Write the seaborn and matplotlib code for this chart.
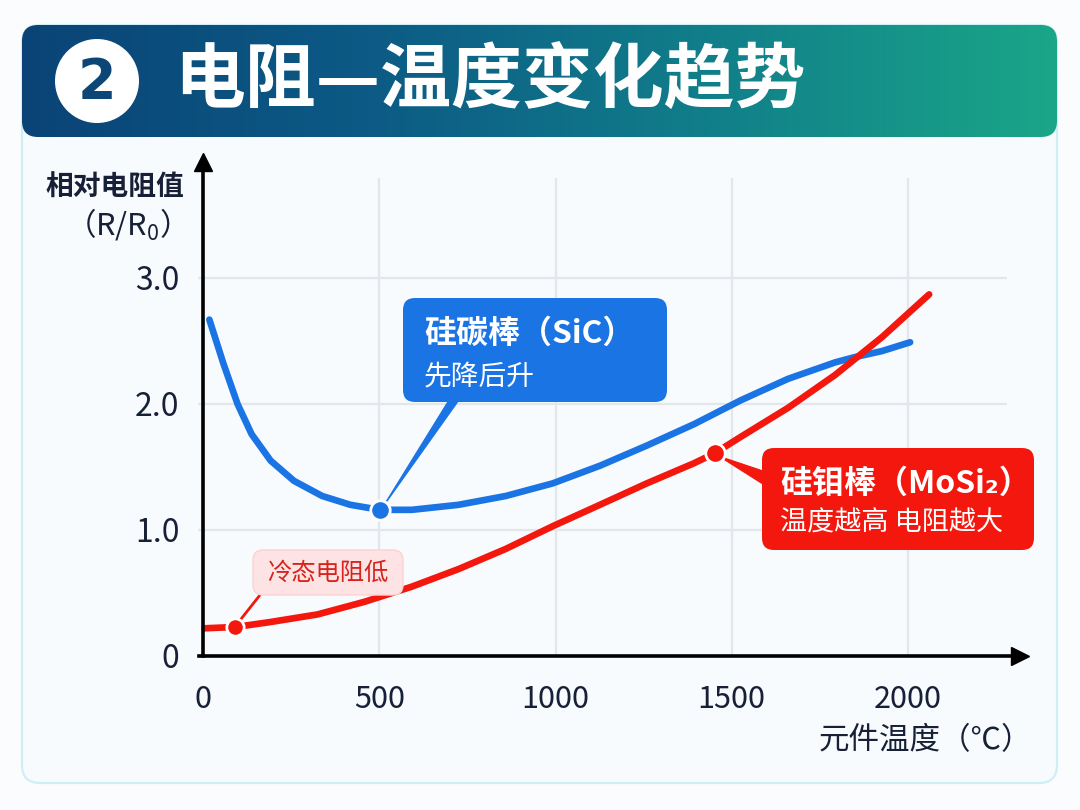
import numpy as np
import pandas as pd
import matplotlib
matplotlib.use('Agg')
import matplotlib.pyplot as plt
import seaborn as sns
from matplotlib.patches import FancyBboxPatch, Polygon, Circle
from matplotlib.colors import LinearSegmentedColormap
from matplotlib.transforms import Affine2D

# ---------------- data ----------------
temps_sic = [18, 58, 98, 138, 192, 258, 338, 418, 502, 592, 725, 859, 992, 1126, 1259, 1393,
             1526, 1660, 1793, 1846, 1926, 2006]
r_sic = [2.67, 2.32, 2.00, 1.76, 1.55, 1.39, 1.27, 1.20, 1.16, 1.16, 1.20, 1.27, 1.37, 1.51,
         1.67, 1.84, 2.03, 2.20, 2.33, 2.37, 2.42, 2.49]
temps_mosi2 = [5, 92, 192, 325, 458, 592, 725, 859, 992, 1126, 1259, 1393, 1452, 1526, 1660,
               1793, 1926, 2060]
r_mosi2 = [0.22, 0.23, 0.27, 0.33, 0.43, 0.55, 0.69, 0.85, 1.03, 1.20, 1.37, 1.53, 1.61, 1.74,
           1.97, 2.23, 2.53, 2.87]
sic_dot_idx = 8        # minimum of SiC
mosi2_cold_idx = 1     # cold resistance point
mosi2_hot_idx = 12     # high-temperature point
x_ticks = [0, 500, 1000, 1500, 2000]
x_tick_labels = ['0', '500', '1000', '1500', '2000']
y_ticks = [0, 1.0, 2.0, 3.0]
y_tick_labels = ['0', '1.0', '2.0', '3.0']
title = '电阻—温度变化趋势'
badge = '2'
y_label_1 = '相对电阻值'
y_label_2 = r'（$\mathregular{R/R_0}$）'
x_label = '元件温度（℃）'
sic_title = '硅碳棒（SiC）'
sic_sub = '先降后升'
mosi2_title = '硅钼棒（MoSi₂）'
mosi2_sub = '温度越高 电阻越大'
cold_note = '冷态电阻低'

# ---------------- style ----------------
sns.set_theme(style='white')
plt.rcParams['font.family'] = ['Noto Sans CJK SC', 'DejaVu Sans']
plt.rcParams['axes.unicode_minus'] = False

BLUE = '#1a74e4'
RED = '#f3170d'
INK = '#172036'
GRID = '#e3e6ea'

W, H = 1080, 810
fig = plt.figure(figsize=(W / 100, H / 100), dpi=100)
fig.patch.set_facecolor('#fbfcfd')

# pixel transform (origin top-left)
PX = Affine2D().scale(1 / W, -1 / H).translate(0, 1) + fig.transFigure

bg = fig.add_axes([0, 0, 1, 1], zorder=0)
bg.set_xlim(0, W)
bg.set_ylim(H, 0)
bg.axis('off')

# card
bg.add_patch(FancyBboxPatch((22, 25), 1035, 758, boxstyle='round,pad=0,rounding_size=18',
                            fc='#f8fbfd', ec='#cfeff6', lw=1.6, zorder=0.5))

# header gradient
hdr = FancyBboxPatch((22, 25), 1035, 112, boxstyle='round,pad=0,rounding_size=16',
                     fc='none', ec='none', transform=bg.transData)
bg.add_patch(hdr)
cmap = LinearSegmentedColormap.from_list('hdr', ['#0a4476', '#0c5a85', '#117f8a', '#1aa688'])
grad = np.linspace(0, 1, 512).reshape(1, -1)
im = bg.imshow(grad, cmap=cmap, extent=(22, 1057, 137, 25), aspect='auto', zorder=1)
im.set_clip_path(hdr)
bg.set_xlim(0, W)
bg.set_ylim(H, 0)

bg.add_patch(Circle((97, 81), 42, fc='white', ec='none', zorder=2))
bg.text(97, 83, badge, ha='center', va='center', fontsize=40, fontweight='bold',
        color='#0b4677', zorder=3, family=['DejaVu Sans'])
bg.text(174, 82, title, ha='left', va='center', fontsize=51, fontweight='bold',
        color='white', zorder=3)

# axis titles
bg.text(115, 188, y_label_1, ha='center', va='center', fontsize=20, fontweight='bold', color=INK, zorder=3)
bg.text(118, 224, y_label_2, ha='center', va='center', fontsize=22, color=INK, zorder=3)
bg.text(1032, 741, x_label, ha='right', va='center', fontsize=22, color=INK, zorder=3)

# ---------------- chart axes ----------------
X0, Y0 = 203, 656          # pixel of origin
SX, SY = 0.3525, 126.0     # px per unit
right_px, top_px = 1020, 162
ax = fig.add_axes([X0 / W, (H - Y0) / H, (right_px - X0) / W, (Y0 - top_px) / H], zorder=2)
ax.patch.set_alpha(0)
ax.set_xlim(0, (right_px - X0) / SX)
ax.set_ylim(0, (Y0 - top_px) / SY)

for s in ['top', 'right']:
    ax.spines[s].set_visible(False)
for s in ['left', 'bottom']:
    ax.spines[s].set_color('black')
    ax.spines[s].set_linewidth(2.6)
    ax.spines[s].set_zorder(6)
ax.spines['bottom'].set_bounds(-12, (right_px - X0) / SX)
ax.plot(1, 0, marker='>', color='black', ms=13, transform=ax.transAxes, clip_on=False, zorder=7)
ax.plot(0, 1, marker='^', color='black', ms=13, transform=ax.transAxes, clip_on=False, zorder=7)

ax.set_xticks(x_ticks)
ax.set_xticklabels(x_tick_labels)
ax.set_yticks(y_ticks)
ax.set_yticklabels(y_tick_labels)
ax.tick_params(axis='x', direction='inout', length=11, width=2.4, color='black',
               labelsize=22, labelcolor=INK, pad=15)
ax.tick_params(axis='y', length=0, labelsize=23, labelcolor=INK, pad=17)
ax.grid(False)

# grid lines
grid_top = (Y0 - 178) / SY
grid_right = (1007 - X0) / SX
ax.vlines(x_ticks[1:], 0, grid_top, color=GRID, lw=1.6, zorder=0)
ax.hlines(y_ticks[1:], -14, grid_right, color=GRID, lw=1.6, zorder=0, clip_on=False)

# curves
df_sic = pd.DataFrame({'t': temps_sic, 'r': r_sic})
df_mo = pd.DataFrame({'t': temps_mosi2, 'r': r_mosi2})
sns.lineplot(data=df_sic, x='t', y='r', ax=ax, color=BLUE, lw=4.8, estimator=None, sort=False, zorder=4)
sns.lineplot(data=df_mo, x='t', y='r', ax=ax, color=RED, lw=4.8, estimator=None, sort=False, zorder=4)
for ln in ax.lines[-2:]:
    ln.set_solid_capstyle('round')
    ln.set_solid_joinstyle('round')
    ln.set_clip_on(False)
ax.set_xlabel('')
ax.set_ylabel('')

# dots
ax.plot(temps_sic[sic_dot_idx], r_sic[sic_dot_idx], 'o', ms=14, color=BLUE, mec='white', mew=2, zorder=8)
ax.plot(temps_mosi2[mosi2_hot_idx], r_mosi2[mosi2_hot_idx], 'o', ms=14, color=RED, mec='white', mew=2, zorder=8)
ax.plot(temps_mosi2[mosi2_cold_idx], r_mosi2[mosi2_cold_idx], 'o', ms=12.5, color=RED, mec='white', mew=2, zorder=8)

# annotation boxes and pointers (pixel layout)
def to_px(x, y):
    d = ax.transData.transform((x, y))
    return PX.inverted().transform(d)

sd = to_px(temps_sic[sic_dot_idx], r_sic[sic_dot_idx])
ax.add_patch(Polygon([(449, 400), (459, 400), (sd[0] + 3, sd[1] - 3)], closed=True, fc=BLUE, ec=BLUE,
                     lw=0.8, transform=PX, clip_on=False, zorder=3))
ax.add_patch(FancyBboxPatch((403, 298), 264, 104, boxstyle='round,pad=0,rounding_size=12',
                            fc=BLUE, ec='none', transform=PX, clip_on=False, zorder=9))
ax.text(424, 334, sic_title, transform=PX, fontsize=23, fontweight='bold', color='white',
        ha='left', va='center', zorder=10)
ax.text(424, 377, sic_sub, transform=PX, fontsize=20, color='white', ha='left', va='center', zorder=10)

hd = to_px(temps_mosi2[mosi2_hot_idx], r_mosi2[mosi2_hot_idx])
ax.add_patch(Polygon([(hd[0] + 4, hd[1] + 3), (766, 472), (766, 486)], closed=True, fc=RED, ec=RED,
                     lw=0.8, transform=PX, clip_on=False, zorder=3))
ax.add_patch(FancyBboxPatch((762, 448), 272, 102, boxstyle='round,pad=0,rounding_size=12',
                            fc=RED, ec='none', transform=PX, clip_on=False, zorder=9))
ax.text(780, 484, mosi2_title, transform=PX, fontsize=23, fontweight='bold', color='white',
        ha='left', va='center', zorder=10)
ax.text(780, 523, mosi2_sub, transform=PX, fontsize=19.5, color='white', ha='left', va='center', zorder=10)

cd = to_px(temps_mosi2[mosi2_cold_idx], r_mosi2[mosi2_cold_idx])
ax.plot([cd[0] + 4, 260], [cd[1] - 6, 595], color=RED, lw=2, transform=PX, clip_on=False, zorder=3)
ax.add_patch(FancyBboxPatch((253, 550), 150, 45, boxstyle='round,pad=0,rounding_size=10',
                            fc='#fde3e3', ec='#fbd3d3', lw=1, transform=PX, clip_on=False, zorder=9))
ax.text(328, 573, cold_note, transform=PX, fontsize=17.5, color='#d8221c', ha='center', va='center', zorder=10)

fig.savefig('out.png', dpi=100, facecolor=fig.get_facecolor())
